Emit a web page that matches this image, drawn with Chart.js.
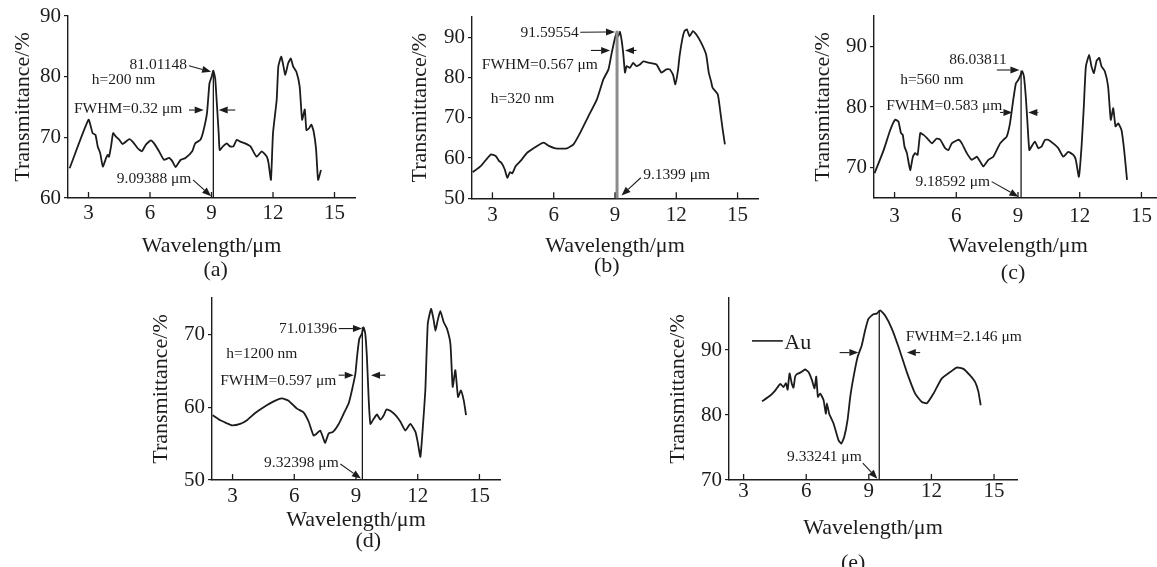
<!DOCTYPE html>
<html><head><meta charset="utf-8">
<script src="https://cdn.jsdelivr.net/npm/chart.js@4.4.1/dist/chart.umd.min.js"></script>
<style>
html,body{margin:0;padding:0;overflow:hidden;background:#fff;width:1157px;height:567px;position:relative;}
canvas{position:absolute;}
</style></head><body>
<canvas id="ca"></canvas><canvas id="cb"></canvas><canvas id="cc"></canvas><canvas id="cd"></canvas><canvas id="ce"></canvas>
<script>
// ---------- data ----------
const xTicks = [3, 6, 9, 12, 15];
const aTicks = [60, 70, 80, 90];
const bTicks = [50, 60, 70, 80, 90];
const cTicks = [70, 80, 90];
const dTicks = [50, 60, 70];
const eTicks = [70, 80, 90];

const aWave = [2.08,3.0,3.2,3.34,3.45,3.57,3.7,3.86,3.94,4.0,4.1,4.2,4.34,4.5,4.66,4.99,5.15,5.4,5.6,5.8,6.04,6.2,6.44,6.68,6.93,7.1,7.25,7.5,7.73,8.06,8.2,8.46,8.6,8.78,8.9,9.0,9.09,9.18,9.27,9.35,9.4,9.56,9.75,9.9,10.07,10.23,10.4,10.64,10.9,11.2,11.45,11.7,11.78,11.9,12.0,12.18,12.26,12.4,12.5,12.6,12.74,12.87,12.98,13.14,13.3,13.42,13.55,13.63,13.76,13.87,13.98,14.1,14.2,14.34];
const aTrans = [64.9,72.9,70.7,70.4,68.5,67.4,65.2,66.6,67.1,66.8,68.5,70.7,70.1,69.6,68.9,69.7,69.3,68.2,67.7,68.8,69.5,69.0,67.7,66.3,66.6,66.0,65.1,66.3,66.6,67.7,69.0,69.6,71.0,74.0,78.9,79.9,81.0,79.7,75.1,70.7,67.9,68.5,69.0,68.5,68.5,69.6,69.3,69.0,68.5,66.8,67.7,66.8,65.8,63.0,70.7,76.2,81.7,83.3,81.9,80.3,82.2,83.0,81.7,80.8,78.4,72.9,74.6,71.2,71.5,72.1,71.0,68.1,63.0,64.6];

const bWave = [2.03,2.43,2.92,3.16,3.32,3.44,3.6,3.73,3.86,3.97,4.14,4.38,4.7,5.19,5.51,5.76,6.08,6.65,6.97,7.3,7.7,8.11,8.43,8.68,8.84,9.0,9.08,9.16,9.24,9.32,9.4,9.49,9.57,9.73,9.89,10.05,10.22,10.38,10.7,11.03,11.27,11.51,11.68,11.84,11.95,12.08,12.16,12.29,12.4,12.52,12.65,12.81,12.97,13.22,13.46,13.59,13.7,13.78,14.03,14.14,14.27,14.38];
const bTrans = [56.5,58.0,60.9,60.5,59.3,58.8,57.2,55.1,56.5,56.2,58.0,59.3,61.3,63.0,63.8,63.0,62.4,62.4,63.4,66.3,70.4,74.5,79.5,82.0,86.1,89.8,91.1,90.2,91.3,89.4,86.1,81.2,82.8,82.4,83.6,82.8,83.2,84.0,83.6,83.2,81.2,82.0,82.0,80.7,78.3,81.6,85.3,89.4,91.5,91.9,90.2,91.5,90.7,88.6,85.7,81.2,79.1,77.4,75.8,72.1,67.1,63.4];

const cWave = [2.03,2.47,2.79,3.03,3.19,3.31,3.4,3.48,3.6,3.76,3.89,4.0,4.12,4.25,4.41,4.65,4.81,5.05,5.22,5.46,5.62,5.78,6.11,6.27,6.51,6.75,7.0,7.16,7.32,7.56,7.8,8.13,8.29,8.45,8.61,8.77,8.9,9.02,9.13,9.21,9.29,9.39,9.47,9.55,9.66,9.82,9.99,10.15,10.31,10.47,10.71,10.96,11.2,11.44,11.69,11.81,11.96,12.09,12.2,12.3,12.46,12.57,12.69,12.82,12.95,13.06,13.22,13.38,13.51,13.63,13.74,13.87,14.03,14.16,14.3];
const cTrans = [69.1,72.9,76.2,77.9,77.6,75.7,75.4,73.5,72.4,69.6,71.8,72.4,72.1,75.7,75.4,74.6,74.0,74.8,74.6,73.2,72.9,74.0,74.6,74.0,72.4,71.3,71.8,71.0,70.2,71.3,71.8,74.0,74.6,75.1,77.3,81.2,83.9,84.5,85.3,85.9,85.0,81.2,76.8,72.9,73.5,74.3,73.2,73.5,74.6,74.6,74.0,73.2,71.8,72.6,72.1,71.3,68.5,73.5,80.1,86.7,88.6,86.7,85.6,87.6,88.1,86.7,85.9,83.4,77.9,79.8,76.8,77.3,76.2,72.9,68.0];

const dWave = [2.03,2.4,2.72,2.97,3.37,3.7,4.1,4.51,5.0,5.4,5.72,6.13,6.45,6.7,6.94,7.1,7.26,7.39,7.5,7.67,7.88,8.16,8.4,8.64,8.8,8.97,9.05,9.16,9.29,9.37,9.45,9.53,9.62,9.7,9.86,10.02,10.18,10.35,10.48,10.67,10.92,11.16,11.4,11.64,11.89,12.0,12.13,12.26,12.37,12.49,12.65,12.78,12.86,12.97,13.1,13.26,13.42,13.59,13.7,13.83,13.96,14.1,14.24,14.35];
const dTrans = [58.9,58.2,57.8,57.5,57.7,58.2,59.2,60.0,60.8,61.2,60.9,59.8,59.3,58.0,56.1,56.4,56.8,55.9,55.1,56.4,56.6,57.7,59.1,60.5,62.3,64.6,66.9,69.4,70.1,71.0,70.1,66.9,60.9,57.7,58.4,59.0,58.3,58.9,59.7,59.5,58.9,58.0,56.8,57.7,56.6,55.2,53.2,57.7,62.3,71.5,73.5,71.9,70.5,71.9,73.2,71.7,70.8,68.7,62.8,65.1,61.4,62.3,60.9,58.9];

const eWave = [3.88,4.28,4.52,4.76,4.91,5.03,5.11,5.2,5.31,5.39,5.47,5.55,5.63,5.75,5.95,6.11,6.27,6.4,6.48,6.56,6.67,6.83,6.94,6.99,7.1,7.31,7.55,7.68,7.82,7.98,8.11,8.27,8.46,8.66,8.82,8.98,9.22,9.38,9.54,9.78,10.1,10.42,10.82,11.22,11.54,11.78,12.1,12.49,12.9,13.21,13.53,13.85,14.09,14.25,14.36];
const eTrans = [82.1,83.0,83.8,84.8,84.3,84.9,83.9,86.4,84.8,84.2,85.9,86.3,86.4,86.6,87.0,86.6,85.4,84.1,85.9,82.8,83.3,82.3,80.2,81.8,80.2,78.7,76.1,75.6,76.6,79.2,82.8,85.9,88.9,90.7,93.0,94.8,95.5,95.6,96.1,95.3,93.3,90.5,86.6,83.3,82.0,81.8,83.3,85.6,86.6,87.3,87.1,86.1,85.1,83.6,81.5];

// ---------- helpers ----------
const SERIF = '"Liberation Serif", "Times New Roman", Times, serif';
const INK = '#1c1c1c';

const marksPlugin = {
  id: 'marks',
  afterDatasetsDraw(chart, args, o) {
    const {ctx, scales: {x, y}} = chart;
    ctx.save();
    (o.vlines || []).forEach(v => {
      const px = x.getPixelForValue(v.x);
      ctx.beginPath();
      ctx.strokeStyle = v.color || INK;
      ctx.lineWidth = v.width || 1.3;
      ctx.moveTo(px, y.getPixelForValue(v.y1));
      ctx.lineTo(px, y.getPixelForValue(v.y2));
      ctx.stroke();
    });
    ctx.strokeStyle = INK; ctx.fillStyle = INK;
    (o.lines || []).forEach(l => {
      ctx.beginPath(); ctx.lineWidth = l.width || 1.2;
      ctx.moveTo(x.getPixelForValue(l.x1), y.getPixelForValue(l.y1));
      ctx.lineTo(x.getPixelForValue(l.x2), y.getPixelForValue(l.y2));
      ctx.stroke();
    });
    ctx.lineWidth = 1.1;
    (o.arrows || []).forEach(a => {
      const x1 = x.getPixelForValue(a.x1), y1 = y.getPixelForValue(a.y1);
      const x2 = x.getPixelForValue(a.x2), y2 = y.getPixelForValue(a.y2);
      const ang = Math.atan2(y2 - y1, x2 - x1), hl = 9, hw = 3.5;
      const bx = x2 - hl * Math.cos(ang), by = y2 - hl * Math.sin(ang);
      ctx.beginPath(); ctx.moveTo(x1, y1); ctx.lineTo(bx, by); ctx.stroke();
      ctx.beginPath();
      ctx.moveTo(x2, y2);
      ctx.lineTo(bx + hw * Math.sin(ang), by - hw * Math.cos(ang));
      ctx.lineTo(bx - hw * Math.sin(ang), by + hw * Math.cos(ang));
      ctx.closePath(); ctx.fill();
    });
    (o.texts || []).forEach(t => {
      ctx.font = (t.size || 15.5) + 'px ' + SERIF;
      ctx.textAlign = t.align || 'left';
      ctx.textBaseline = 'middle';
      ctx.fillText(t.t, x.getPixelForValue(t.x), y.getPixelForValue(t.y));
    });
    ctx.restore();
  },
  afterDraw(chart, args, o) {
    const {ctx, chartArea, scales: {x}} = chart;
    ctx.save();
    ctx.strokeStyle = INK; ctx.lineWidth = 1.3;
    xTicks.forEach(v => {
      const px = x.getPixelForValue(v);
      ctx.beginPath(); ctx.moveTo(px, chartArea.bottom); ctx.lineTo(px, chartArea.bottom - 6); ctx.stroke();
    });
    ctx.fillStyle = INK;
    ctx.font = '22px ' + SERIF;
    ctx.textAlign = 'center'; ctx.textBaseline = 'middle';
    ctx.fillText(o.label, x.getPixelForValue(o.labelX), o.labelY);
    ctx.restore();
  }
};

function panel(id, g, wave, trans, yTicks, marks) {
  const cv = document.getElementById(id);
  const left = g.L - 68, top = g.T - 16;
  const w = g.R - g.L + 80, h = g.labelY + 14 - top;
  cv.style.left = left + 'px'; cv.style.top = top + 'px';
  cv.width = w; cv.height = h;
  const xH = g.labelY + 14 - g.B;
  marks.labelY = g.labelY - top;
  new Chart(cv, {
    type: 'line',
    data: { datasets: [{ data: wave.map((v, i) => ({x: v, y: trans[i]})), borderColor: INK, borderWidth: 1.8, pointRadius: 0, tension: 0.15, fill: false }] },
    options: {
      responsive: false, animation: false, devicePixelRatio: 1,
      layout: { padding: { left: 0, top: 16, right: 12, bottom: 0 } },
      plugins: { legend: { display: false }, tooltip: { enabled: false }, marks: marks },
      scales: {
        x: {
          type: 'linear', min: g.xmin, max: g.xmax,
          afterBuildTicks: s => { s.ticks = xTicks.map(v => ({value: v})); },
          afterFit: s => { s.height = xH; s.paddingLeft = 0; s.paddingRight = 0; },
          grid: { display: false, drawTicks: false },
          border: { display: true, color: INK, width: 1.4 },
          ticks: { color: INK, padding: g.tickPad, maxRotation: 0, autoSkip: false, font: { family: SERIF, size: 21, lineHeight: 1 } },
          title: { display: true, text: 'Wavelength/μm', color: INK, font: { family: SERIF, size: 22, lineHeight: 1 }, padding: { top: 0, bottom: g.labelY + 14 - g.xTitleY - 11 } }
        },
        y: {
          type: 'linear', min: g.ymin, max: g.ymax,
          afterBuildTicks: s => { s.ticks = yTicks.map(v => ({value: v})); },
          afterFit: s => { s.width = 68; s.paddingTop = 0; s.paddingBottom = 0; },
          grid: { display: true, drawOnChartArea: false, drawTicks: true, tickLength: 4, color: INK, lineWidth: 1.2 },
          border: { display: true, color: INK, width: 1.4 },
          ticks: { color: INK, padding: 3, font: { family: SERIF, size: 21, lineHeight: 1 } },
          title: { display: true, text: 'Transmittance/%', color: INK, font: { family: SERIF, size: 22, lineHeight: 1 }, padding: { top: g.yTitleX - left - 11, bottom: 0 } }
        }
      }
    },
    plugins: [marksPlugin]
  });
}

panel('ca', {L:68, R:355, T:16, B:198, xmin:2, xmax:16, ymin:60, ymax:90, xTitleY:246.7, labelY:270, tickPad:5, yTitleX:23.3}, aWave, aTrans, aTicks, {
  label: '(a)', labelX: 9.2,
  vlines: [{x: 9.09, y1: 81.0, y2: 60}],
  texts: [
    {t: '81.01148', x: 7.81, y: 81.9, align: 'right'},
    {t: 'h=200 nm', x: 3.16, y: 79.5},
    {t: 'FWHM=0.32 μm', x: 2.29, y: 74.7},
    {t: '9.09388 μm', x: 8.02, y: 63.2, align: 'right'}
  ],
  arrows: [
    {x1: 7.9, y1: 81.8, x2: 8.98, y2: 80.8},
    {x1: 7.9, y1: 74.5, x2: 8.62, y2: 74.5},
    {x1: 10.16, y1: 74.5, x2: 9.35, y2: 74.5},
    {x1: 8.1, y1: 63.0, x2: 8.98, y2: 60.3}
  ]
});

panel('cb', {L:472, R:758, T:17, B:199, xmin:2, xmax:16, ymin:50, ymax:95, xTitleY:246.7, labelY:266.7, tickPad:7, yTitleX:420}, bWave, bTrans, bTicks, {
  label: '(b)', labelX: 8.6,
  vlines: [{x: 9.1, y1: 91.6, y2: 50, color: '#8c8c8c', width: 3}],
  texts: [
    {t: '91.59554', x: 7.22, y: 91.1, align: 'right'},
    {t: 'FWHM=0.567 μm', x: 2.48, y: 83.1},
    {t: 'h=320 nm', x: 2.92, y: 74.7},
    {t: '9.1399 μm', x: 10.38, y: 55.8}
  ],
  arrows: [
    {x1: 7.3, y1: 91.2, x2: 9.0, y2: 91.3},
    {x1: 7.82, y1: 86.7, x2: 8.76, y2: 86.7},
    {x1: 10.05, y1: 86.7, x2: 9.49, y2: 86.7},
    {x1: 10.26, y1: 55.1, x2: 9.32, y2: 50.7}
  ]
});

panel('cc', {L:874, R:1162, T:16, B:198, xmin:2, xmax:16, ymin:65, ymax:95, xTitleY:246.7, labelY:273, tickPad:8, yTitleX:823.3}, cWave, cTrans, cTicks, {
  label: '(c)', labelX: 8.76,
  vlines: [{x: 9.15, y1: 86.0, y2: 65}],
  texts: [
    {t: '86.03811', x: 8.45, y: 87.8, align: 'right'},
    {t: 'h=560 nm', x: 3.27, y: 84.5},
    {t: 'FWHM=0.583 μm', x: 2.6, y: 80.2},
    {t: '9.18592 μm', x: 7.64, y: 67.7, align: 'right'}
  ],
  arrows: [
    {x1: 7.97, y1: 86.1, x2: 9.07, y2: 86.1},
    {x1: 8.13, y1: 79.1, x2: 8.73, y2: 79.1},
    {x1: 9.99, y1: 79.1, x2: 9.5, y2: 79.1},
    {x1: 7.72, y1: 67.7, x2: 9.02, y2: 65.2}
  ]
});

panel('cd', {L:212, R:500, T:298, B:480, xmin:2, xmax:16, ymin:50, ymax:75, xTitleY:520, labelY:541, tickPad:6, yTitleX:161.7}, dWave, dTrans, dTicks, {
  label: '(d)', labelX: 9.6,
  vlines: [{x: 9.31, y1: 71.0, y2: 50}],
  texts: [
    {t: '71.01396', x: 8.08, y: 70.8, align: 'right'},
    {t: 'h=1200 nm', x: 2.69, y: 67.3},
    {t: 'FWHM=0.597 μm', x: 2.4, y: 63.6},
    {t: '9.32398 μm', x: 8.16, y: 52.3, align: 'right'}
  ],
  arrows: [
    {x1: 8.16, y1: 70.8, x2: 9.29, y2: 70.8},
    {x1: 8.16, y1: 64.4, x2: 8.89, y2: 64.4},
    {x1: 10.43, y1: 64.4, x2: 9.73, y2: 64.4},
    {x1: 8.24, y1: 52.2, x2: 9.24, y2: 50.2}
  ]
});

panel('ce', {L:729, R:1017, T:298, B:480, xmin:2.3, xmax:16.1, ymin:70, ymax:98, xTitleY:528.3, labelY:563, tickPad:1, yTitleX:678.3}, eWave, eTrans, eTicks, {
  label: '(e)', labelX: 8.25,
  vlines: [{x: 9.5, y1: 96.1, y2: 70}],
  lines: [{x1: 3.4, y1: 91.4, x2: 4.88, y2: 91.4, width: 1.6}],
  texts: [
    {t: 'Au', x: 4.95, y: 91.1, size: 22},
    {t: 'FWHM=2.146 μm', x: 10.77, y: 92.0},
    {t: '9.33241 μm', x: 8.66, y: 73.6, align: 'right'}
  ],
  arrows: [
    {x1: 7.6, y1: 89.6, x2: 8.5, y2: 89.6},
    {x1: 11.46, y1: 89.6, x2: 10.82, y2: 89.6},
    {x1: 8.71, y1: 72.6, x2: 9.41, y2: 70.2}
  ]
});
</script>
</body></html>
